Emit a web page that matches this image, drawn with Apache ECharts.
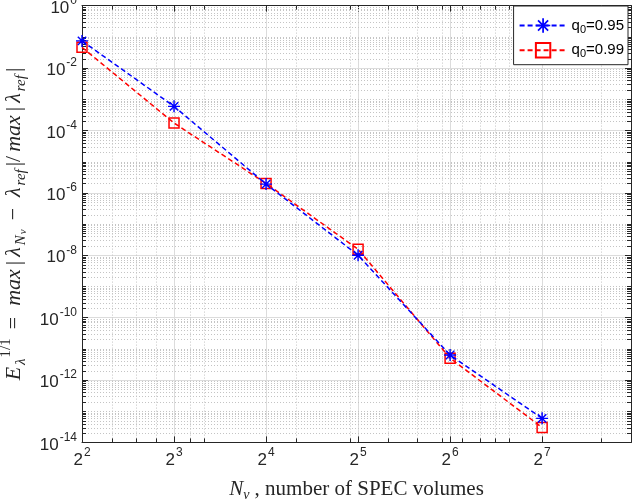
<!DOCTYPE html>
<html><head><meta charset="utf-8">
<script src="https://cdn.jsdelivr.net/npm/echarts@6/dist/echarts.min.js"></script>
<style>html,body{margin:0;padding:0;background:#fff}#c{width:632px;height:504px}</style>
</head><body><div id="c"></div>
<script>
// ---- data ----
const xValues = [4, 8, 16, 32, 64, 128];
const q095 = [0.074, 5.9e-4, 1.9e-6, 1.0e-8, 6.3e-12, 5.9e-14];
const q099 = [0.046, 1.72e-4, 2.0e-6, 1.55e-8, 5.0e-12, 3.0e-14];
const seriesNames = ['q_0=0.95', 'q_0=0.99'];
const xTickExponents = [2, 3, 4, 5, 6, 7];   // labels 2^k
const yTickExponents = [0, -2, -4, -6, -8, -10, -12, -14]; // labels 10^k
const xMinorTicks = [5, 6, 7, 9, 10, 20, 30, 40, 50, 60, 70, 80, 90, 100, 200];
const yMinorMantissas = [1, 2, 3, 4, 5, 6, 7, 8, 9];
const yDecades = [-14, -13, -12, -11, -10, -9, -8, -7, -6, -5, -4, -3, -2, -1];

const X_MIN = 4, X_MAX = 250, Y_MIN = 1e-14, Y_MAX = 1;
const AX = '#262626';
const FONT = 'Liberation Sans, Arial, sans-serif';
const SERIF = 'Liberation Serif, DejaVu Serif, serif';

const yMinor = [];
yDecades.forEach(e => yMinorMantissas.forEach(m => {
  if (m === 1 && yTickExponents.includes(e)) return;
  yMinor.push([X_MIN, m * Math.pow(10, e), 0]);
}));
const xMinor = xMinorTicks.map(v => [v, Y_MIN, 1]);

const starPath = 'path://M44 0L56 0L56 100L44 100Z M0 44L100 44L100 56L0 56Z M10.8 19.2L19.2 10.8L89.2 80.8L80.8 89.2Z M80.8 10.8L89.2 19.2L19.2 89.2L10.8 80.8Z';

const chart = echarts.init(document.getElementById('c'), null, {renderer: 'canvas'});

const tickRich = {
  b: {fontFamily: FONT, fontSize: 17, color: AX, lineHeight: 22, verticalAlign: 'bottom'},
  s: {fontFamily: FONT, fontSize: 12, color: AX, lineHeight: 22, verticalAlign: 'top', padding: [0, 0, 0, 1]}
};

function xAxisBase(pos, showLabel) {
  return {
    type: 'log', logBase: 2, min: X_MIN, max: X_MAX, interval: 1, position: pos,
    axisLine: {show: true, onZero: false, lineStyle: {color: AX, width: 1}},
    axisTick: {show: true, inside: true, length: 6, lineStyle: {color: AX}},
    minorTick: {show: false},
    splitLine: {show: showLabel, lineStyle: {color: '#dcdcdc', width: 1}},
    axisLabel: {
      show: showLabel, margin: 4, rich: tickRich,
      formatter: v => {
        const e = Math.log2(v); const r = Math.round(e);
        if (Math.abs(e - r) > 1e-6 || !xTickExponents.includes(r)) return '';
        return '{b|2}{s|' + r + '}';
      }
    }
  };
}
function yAxisBase(pos, showLabel) {
  return {
    type: 'log', logBase: 10, min: Y_MIN, max: Y_MAX, interval: 2, position: pos,
    axisLine: {show: true, onZero: false, lineStyle: {color: AX, width: 1}},
    axisTick: {show: true, inside: true, length: 6, lineStyle: {color: AX}},
    minorTick: {show: false},
    splitLine: {show: showLabel, lineStyle: {color: '#dcdcdc', width: 1}},
    axisLabel: {
      show: showLabel, margin: 5, rich: tickRich,
      formatter: v => {
        const r = Math.round(Math.log10(v));
        if (!yTickExponents.includes(r)) return '';
        return '{b|10}{s|' + r + '}';
      }
    }
  };
}

const xA0 = xAxisBase('bottom', true);
xA0.name = '{i|N}{sub|v}{r| , number of SPEC volumes}';
xA0.nameLocation = 'middle';
xA0.nameGap = 34;
xA0.nameTextStyle = {
  rich: {
    i: {fontFamily: SERIF, fontStyle: 'italic', fontSize: 21, color: AX, lineHeight: 26},
    sub: {fontFamily: SERIF, fontStyle: 'italic', fontSize: 14, color: AX, lineHeight: 16, verticalAlign: 'bottom'},
    r: {fontFamily: SERIF, fontSize: 21, color: AX, lineHeight: 26}
  }
};

const yA0 = yAxisBase('left', true);
yA0.name = '{i|E}{sub|λ}{sup|1/1}{op|=}{i|max}{r||}{i|λ}{sub|N}{ss|v}{op|−}{i|λ}{sub|ref}{r||/}{i|max}{r||}{i|λ}{sub|ref}{r||}';
yA0.nameLocation = 'middle';
yA0.nameGap = 50;
yA0.nameTextStyle = {
  rich: {
    i: {fontFamily: SERIF, fontStyle: 'italic', fontSize: 22, color: AX, lineHeight: 30, padding: [0, 2, 0, 2]},
    r: {fontFamily: SERIF, fontSize: 22, color: AX, lineHeight: 30, padding: [0, 2, 0, 2]},
    op: {fontFamily: SERIF, fontSize: 22, color: AX, lineHeight: 30, padding: [0, 9, 0, 9]},
    sub: {fontFamily: SERIF, fontStyle: 'italic', fontSize: 15, color: AX, lineHeight: 17, verticalAlign: 'bottom', padding: [0, 1, 0, 0]},
    ss: {fontFamily: SERIF, fontStyle: 'italic', fontSize: 11, color: AX, lineHeight: 12, verticalAlign: 'bottom'},
    sup: {fontFamily: SERIF, fontSize: 15, color: AX, lineHeight: 17, verticalAlign: 'top'}
  }
};

const option = {
  animation: false,
  backgroundColor: '#ffffff',
  grid: {left: 82, right: 1, top: 5.6, bottom: 61.6, containLabel: false, outerBoundsMode: 'none'},
  xAxis: [xA0, xAxisBase('top', false)],
  yAxis: [yA0, yAxisBase('right', false)],
  legend: {
    data: seriesNames,
    orient: 'vertical', right: 4, top: 6,
    backgroundColor: '#ffffff', borderColor: AX, borderWidth: 1, borderRadius: 0,
    padding: [12, 4, 5, 5], itemGap: 7, itemWidth: 47, itemHeight: 18,
    textStyle: {fontFamily: FONT, fontSize: 15, color: '#000',
      rich: {s: {fontFamily: FONT, fontSize: 11, color: '#000', padding: [8, 0, 0, 0]}}},
    formatter: n => n.replace(/_(\d)/, '{s|$1}')
  },
  series: [
    {
      type: 'custom', name: 'minorGrid', silent: true, z: 1,
      xAxisIndex: 0, yAxisIndex: 0, clip: false,
      data: yMinor.concat(xMinor),
      encode: {x: 0, y: 1},
      renderItem: (params, api) => {
        const cs = params.coordSys;
        const k = api.value(2);
        const p = api.coord([api.value(0), api.value(1)]);
        const tick = {stroke: AX, lineWidth: 1};
        const grd = {stroke: '#c4c4c4', lineWidth: 1, lineDash: [1, 2]};
        if (k === 0) {
          const y = Math.round(p[1]) + 0.5;
          return {type: 'group', children: [
            {type: 'line', shape: {x1: cs.x, y1: y, x2: cs.x + cs.width, y2: y}, style: grd},
            {type: 'line', shape: {x1: cs.x, y1: y, x2: cs.x + 4, y2: y}, style: tick},
            {type: 'line', shape: {x1: cs.x + cs.width - 4, y1: y, x2: cs.x + cs.width, y2: y}, style: tick}
          ]};
        }
        const x = Math.round(p[0]) + 0.5;
        return {type: 'group', children: [
          {type: 'line', shape: {x1: x, y1: cs.y, x2: x, y2: cs.y + cs.height}, style: grd},
          {type: 'line', shape: {x1: x, y1: cs.y + cs.height, x2: x, y2: cs.y + cs.height - 4}, style: tick},
          {type: 'line', shape: {x1: x, y1: cs.y, x2: x, y2: cs.y + 4}, style: tick}
        ]};
      }
    },
    {
      type: 'line', name: seriesNames[0], z: 3,
      data: xValues.map((x, i) => [x, q095[i]]),
      symbol: starPath, symbolSize: 12, symbolKeepAspect: true,
      lineStyle: {color: '#0000ff', width: 1.5, type: [5, 3]},
      itemStyle: {color: '#0000ff'}
    },
    {
      type: 'line', name: seriesNames[1], z: 2,
      data: xValues.map((x, i) => [x, q099[i]]),
      symbol: 'rect', symbolSize: 10,
      lineStyle: {color: '#ff0000', width: 1.5, type: [5, 3]},
      itemStyle: {color: 'rgba(255,255,255,0)', borderColor: '#ff0000', borderWidth: 1.5}
    }
  ]
};
chart.setOption(option);
</script></body></html>
